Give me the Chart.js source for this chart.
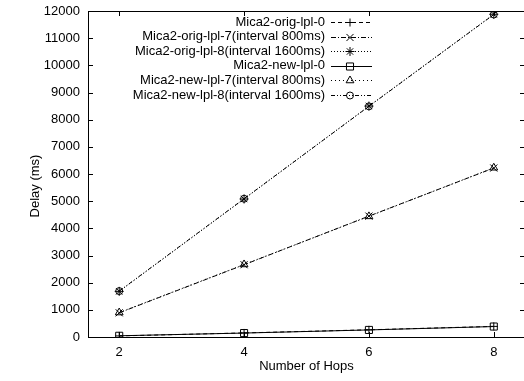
<!DOCTYPE html>
<html><head><meta charset="utf-8">
<script src="https://cdn.jsdelivr.net/npm/chart.js@4.4.1/dist/chart.umd.min.js"></script>
<style>html,body{margin:0;padding:0;overflow:hidden;background:#fff;width:524px;height:381px}#w{width:531px;height:381px}</style>
</head><body><div id="w"><canvas id="c" width="531" height="381"></canvas></div>
<script>
const hops = [2, 4, 6, 8];
const xTicks = [2, 4, 6, 8];
const yTicks = [0,1000,2000,3000,4000,5000,6000,7000,8000,9000,10000,11000,12000];
const origLpl0 = [40, 150, 265, 390];
const origLpl7 = [890, 2660, 4450, 6220];
const origLpl8 = [1680, 5080, 8500, 11880];
const newLpl0 = [45, 145, 260, 385];
const newLpl7 = [900, 2670, 4440, 6230];
const newLpl8 = [1690, 5090, 8490, 11870];
const labels = ["Mica2-orig-lpl-0","Mica2-orig-lpl-7(interval 800ms)","Mica2-orig-lpl-8(interval 1600ms)","Mica2-new-lpl-0","Mica2-new-lpl-7(interval 800ms)","Mica2-new-lpl-8(interval 1600ms)"];

const FONT = "'Liberation Sans', Arial, Helvetica, sans-serif";
const styles = [
  {dash:[4,3], pt:'cross', r:4},
  {dash:[5,2,1,2], pt:'crossRot', r:5},
  {dash:[1,2], pt:'star', r:4.5},
  {dash:[], pt:'rect', r:5},
  {dash:[1,3], pt:'triangle', r:4.5},
  {dash:[4,2,1,2,1,2], pt:'circle', r:3.5}
];
const series = [origLpl0, origLpl7, origLpl8, newLpl0, newLpl7, newLpl8];

const datasets = series.map((s,i)=>({
  label: labels[i],
  data: hops.map((h,j)=>({x:h, y:s[j]})),
  borderColor:'#000', backgroundColor:'rgba(255,255,255,0)',
  borderWidth:1, borderDash: styles[i].dash,
  pointStyle: styles[i].pt, pointRadius: styles[i].r, pointBorderWidth:1,
  pointBorderColor:'#000', pointBackgroundColor:'rgba(255,255,255,0)',
  tension:0, fill:false
}));

function drawMarker(ctx, style, r, x, y){
  if (Chart.helpers && Chart.helpers.drawPoint) {
    Chart.helpers.drawPoint(ctx, {pointStyle: style, radius: r, rotation: 0, borderWidth: 1}, x, y);
  }
}

const framePlugin = {
  id:'frame',
  afterDatasetsDraw(chart){
    const {ctx, chartArea:a, scales:{x, y}} = chart;
    ctx.save();
    ctx.strokeStyle = '#000'; ctx.lineWidth = 1; ctx.setLineDash([]);
    ctx.strokeRect(Math.round(a.left)+0.5, Math.round(a.top)+0.5, Math.round(a.right-a.left), Math.round(a.bottom-a.top));
    const tl = 5;
    ctx.beginPath();
    xTicks.forEach(v=>{
      const px = Math.round(x.getPixelForValue(v))+0.5;
      ctx.moveTo(px, a.bottom); ctx.lineTo(px, a.bottom - tl);
      ctx.moveTo(px, a.top); ctx.lineTo(px, a.top + tl);
    });
    yTicks.forEach(v=>{
      const py = Math.round(y.getPixelForValue(v))+0.5;
      ctx.moveTo(a.left, py); ctx.lineTo(a.left + tl, py);
      ctx.moveTo(a.right, py); ctx.lineTo(a.right - tl, py);
    });
    ctx.stroke();
    // legend
    ctx.font = '13px ' + FONT;
    ctx.fillStyle = '#000';
    ctx.textAlign = 'right'; ctx.textBaseline = 'middle';
    labels.forEach((lab,i)=>{
      const ry = 22 + i*14.6;
      ctx.fillText(lab, 325, ry);
      ctx.setLineDash(styles[i].dash);
      ctx.beginPath(); ctx.moveTo(331, Math.round(ry)+0.5); ctx.lineTo(372, Math.round(ry)+0.5); ctx.stroke();
      ctx.setLineDash([]);
      ctx.fillStyle = 'rgba(255,255,255,0)';
      drawMarker(ctx, styles[i].pt, styles[i].r, 350, Math.round(ry)+0.5);
      ctx.fillStyle = '#000';
    });
    // y title
    ctx.save();
    ctx.translate(35, 186);
    ctx.rotate(-Math.PI/2);
    ctx.textAlign = 'center'; ctx.textBaseline = 'middle';
    ctx.fillText('Delay (ms)', 0, 0);
    ctx.restore();
    ctx.restore();
  }
};

new Chart(document.getElementById('c'), {
  type:'line',
  data:{datasets},
  options:{
    responsive:false, animation:false,
    layout:{padding:{left:0, top:11, right:2, bottom:0}},
    plugins:{legend:{display:false}, tooltip:{enabled:false}},
    scales:{
      x:{type:'linear', min:1.5, max:8.5,
        afterBuildTicks(s){ s.ticks = xTicks.map(v=>({value:v})); },
        afterFit(s){ s.height = 44; s.paddingLeft = 0; s.paddingRight = 0; },
        grid:{display:false, drawTicks:false},
        border:{display:false},
        ticks:{color:'#000', padding:8, font:{family:FONT, size:13}, callback:v=>String(v)},
        title:{display:true, text:'Number of Hops', color:'#000', font:{family:FONT, size:13}, padding:{top:0,bottom:7}}
      },
      y:{type:'linear', min:0, max:12000,
        afterBuildTicks(s){ s.ticks = yTicks.map(v=>({value:v})); },
        afterFit(s){ s.width = 88; s.paddingTop = 0; s.paddingBottom = 0; },
        grid:{display:false, drawTicks:false},
        border:{display:false},
        ticks:{color:'#000', padding:8, font:{family:FONT, size:13}, callback:v=>String(v)},
        title:{display:false}
      }
    }
  },
  plugins:[framePlugin]
});
</script>
</body></html>
